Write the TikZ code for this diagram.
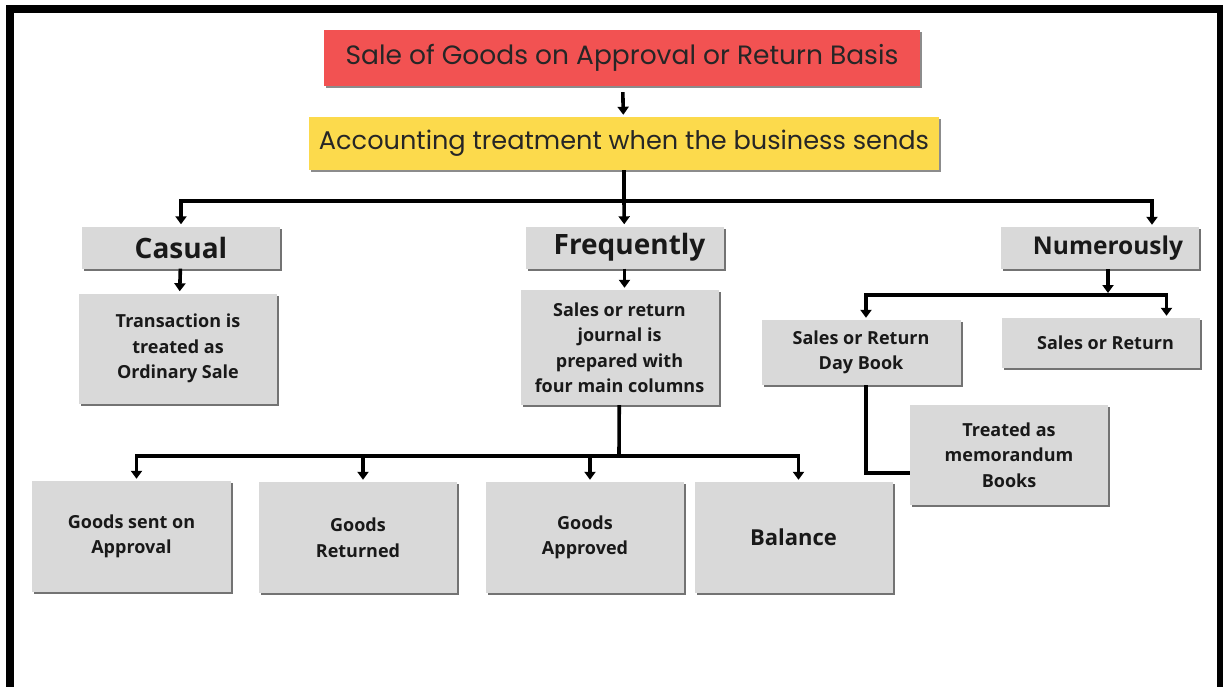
\documentclass[tikz,border=0pt]{standalone}
\usepackage{fontspec}
\setmainfont{Open Sans}
\newfontfamily\titlefont{Poppins}
\usepackage{tikz}
\usetikzlibrary{arrows.meta,positioning,calc,shadows}
\definecolor{salered}{RGB}{242,82,82}
\definecolor{treatyellow}{RGB}{252,218,76}
\definecolor{boxgray}{RGB}{217,217,217}

\begin{document}
\begin{tikzpicture}[x=1pt, y=-1pt, >={Triangle[width=11pt,length=8pt]}]
\tikzstyle{every node}=[inner sep=0pt]
\tikzstyle{box}=[rectangle, fill=boxgray, text=black!90, align=center, minimum width=198pt, font=\fontsize{18}{25.5}\selectfont\bfseries, drop shadow={shadow xshift=2pt, shadow yshift=-2pt, fill=black!55, opacity=1}]
\tikzstyle{head}=[box, minimum height=42pt, font=\fontsize{28}{30}\selectfont\bfseries]
\tikzstyle{banner}=[rectangle, text=black!85, font=\titlefont\fontsize{26.5}{30}\selectfont, drop shadow={shadow xshift=2pt, shadow yshift=-2pt, fill=black!45, opacity=1}]
\tikzstyle{link}=[line width=3.6pt]
\tikzstyle{arr}=[link, ->, shorten >=2pt]
\useasboundingbox (0,0) rectangle (1223,687);
\draw[line width=8pt] (10,9) rectangle (1221,691);

\node[banner, fill=salered, minimum width=596pt, minimum height=56pt] (title) at (622,58) {Sale of Goods on Approval or Return Basis};
\node[banner, fill=treatyellow, minimum width=630pt, minimum height=53pt, font=\titlefont\fontsize{25.6}{30}\selectfont] (treat) at (624,143.5) {Accounting treatment when the business sends};

\node[head] (casual) at (181,247.5) {Casual};
\node[head] (freq) at (624.5,247.5) {\hspace*{10pt}Frequently};
\node[head, font=\fontsize{24.5}{28}\selectfont\bfseries] (num) at (1100,248) {\hspace*{16pt}Numerously};

\node[box, minimum height=110pt] (ordinary) at (178,348.5) {Transaction is\\treated as\\Ordinary Sale};
\node[box, minimum height=115pt] (journal) at (619.5,347.5) {Sales or return\\journal is\\prepared with\\four main columns};

\node[box, minimum width=199pt, minimum height=111pt] (sent) at (131.5,536.5) {Goods sent on\\Approval};
\node[box, minimum height=111pt] (returned) at (358,537.5) {Goods\\Returned};
\node[box, minimum height=111pt] (approved) at (585,537.5) {Goods\\Approved};
\node[box, minimum height=111pt, font=\fontsize{22}{26}\selectfont\bfseries] (balance) at (793.5,537.5) {Balance};

\node[box, minimum width=199pt, minimum height=65pt] (daybook) at (861,352.5) {Sales or Return\\Day Book};
\node[box, minimum height=50pt] (salesret) at (1100.5,343) {\hspace*{10pt}Sales or Return};
\node[box, minimum height=100pt] (memo) at (1009,455) {Treated as\\memorandum\\Books};

\coordinate (split1) at (624,201);
\coordinate (split2) at (619,456);
\coordinate (split3) at (1108,295);

\draw[arr, shorten <=6pt] (title) -- (treat);
\draw[link] (treat) -- (split1);
\draw[arr] (split1) -| (casual);
\draw[arr] (split1) -- (freq);
\draw[arr] (split1) -| ([xshift=52pt]num.north);
\draw[arr] (casual) -- (ordinary);
\draw[arr] (freq) -- (freq |- journal.north);
\draw[link] (journal) -- (split2);
\foreach \n in {sent,returned,approved,balance}
  \draw[arr] (split2) -| ([xshift=5pt]\n.north);
\draw[arr] ([xshift=8pt]num.south) -- (split3);
\draw[arr] (split3) -| ([xshift=5pt]daybook.north);
\draw[arr] (split3) -| ([xshift=66pt]salesret.north);
\draw[link] ([xshift=5pt]daybook.south) |- ([yshift=-18pt]memo.west);

\end{tikzpicture}
\end{document}
